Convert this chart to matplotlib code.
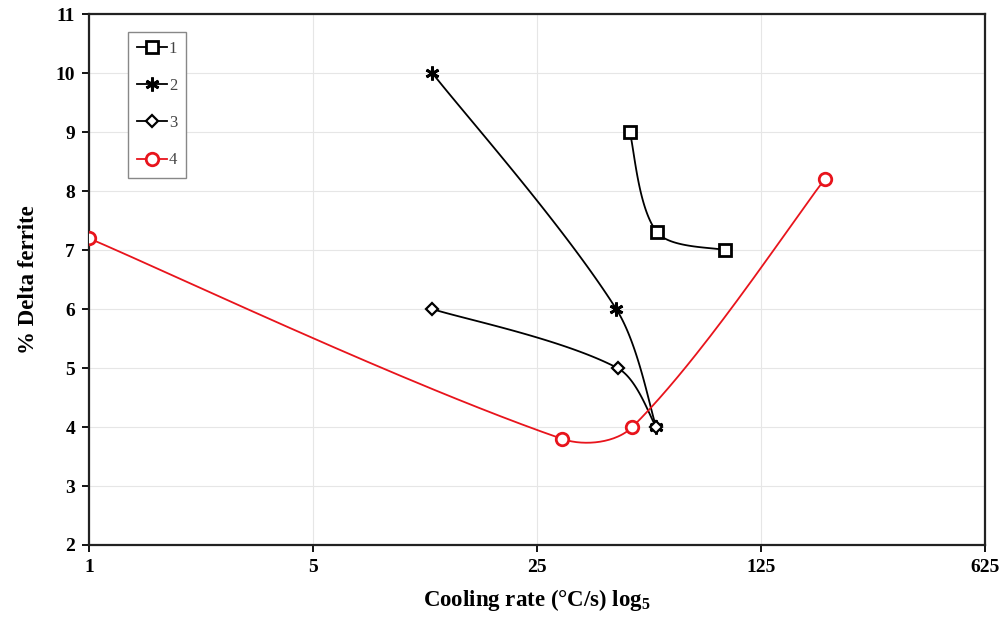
import numpy as np
import matplotlib
matplotlib.use("Agg")
import matplotlib.pyplot as plt

plt.rcParams['font.family'] = ['Liberation Serif', 'DejaVu Serif']
plt.rcParams['mathtext.fontset'] = 'custom'
plt.rcParams['mathtext.rm'] = 'Liberation Serif'
plt.rcParams['mathtext.bf'] = 'Liberation Serif:bold'

# cooling rate (C/s) and % delta ferrite
x1 = [48.7, 59.3, 96.4]
y1 = [9.0, 7.3, 7.0]
x2 = [11.8, 44.2, 58.9]
y2 = [10.0, 6.0, 4.0]
x3 = [11.8, 44.6, 58.9]
y3 = [6.0, 5.0, 4.0]
x4 = [1.0, 29.9, 49.6, 197.6]
y4 = [7.2, 3.8, 4.0, 8.2]
xticks = [1, 5, 25, 125, 625]


def smooth(xs, ys, n=50):
    # excel style smoothed line (bezier), worked out in rough screen units
    sx, sy = 224.0, 59.0
    px = np.log(np.array(xs, float)) / np.log(5) * sx
    py = np.array(ys, float) * sy
    pts = np.column_stack([px, py])
    k = len(pts)
    d = np.hypot(*np.diff(pts, axis=0).T)
    out = []
    t = np.linspace(0, 1, n)[:, None]
    for i in range(k - 1):
        p0 = pts[i]
        p3 = pts[i + 1]
        if i > 0:
            c1 = p0 + (p3 - pts[i - 1]) * d[i] / (d[i - 1] + d[i]) / 3
        else:
            c1 = p0 + (p3 - p0) / 6
        if i + 2 < k:
            c2 = p3 - (pts[i + 2] - p0) * d[i] / (d[i] + d[i + 1]) / 3
        else:
            c2 = p3 - (p3 - p0) / 6
        seg = ((1 - t) ** 3) * p0 + 3 * ((1 - t) ** 2) * t * c1 + 3 * (1 - t) * t ** 2 * c2 + t ** 3 * p3
        out.append(seg)
    out = np.vstack(out)
    return 5 ** (out[:, 0] / sx), out[:, 1] / sy


fig = plt.figure(figsize=(10.03, 6.17), dpi=100)
ax = fig.add_axes([0.0887, 0.1167, 0.8933, 0.8603])

series = [
    (x1, y1, "1", "black", dict(marker="s", ms=9, mfc="white", mew=2)),
    (x2, y2, "2", "black", dict(marker=(6, 2, 0), ms=10, mew=2)),
    (x3, y3, "3", "black", dict(marker="D", ms=6.5, mfc="white", mew=1.6)),
    (x4, y4, "4", "#e8141c", dict(marker="o", ms=9, mfc="white", mew=2)),
]
for xs, ys, lab, col, mk in series:
    sx, sy = smooth(xs, ys)
    ax.plot(sx, sy, color=col, lw=1.3, zorder=3)
    ax.plot(xs, ys, ls="none", color=col, mec=col, zorder=4, **mk)
    ax.plot([], [], color=col, lw=1.3, mec=col, label=lab, **mk)

ax.set_xscale("log", base=5)
ax.set_xlim(1, 625)
ax.set_ylim(2, 11)
ax.set_xticks(xticks)
ax.set_xticklabels([str(v) for v in xticks])
ax.xaxis.set_minor_locator(matplotlib.ticker.NullLocator())
ax.set_yticks(range(2, 12))
ax.grid(True, color="#e6e6e6", lw=0.8)
ax.set_axisbelow(True)
for s in ax.spines.values():
    s.set_linewidth(1.6)
    s.set_color("#222222")
ax.tick_params(direction="out", length=5, width=1.3, labelsize=14, pad=5)
for lbl in ax.get_xticklabels() + ax.get_yticklabels():
    lbl.set_fontweight("bold")

ax.set_xlabel(r"Cooling rate (°C/s) log$_\mathbf{5}$", fontsize=16.5, fontweight="bold", labelpad=8)
ax.set_ylabel("% Delta ferrite", fontsize=16.5, fontweight="bold", labelpad=12)

leg = ax.legend(loc="upper left", bbox_to_anchor=(0.0435, 0.967), fontsize=12,
                handlelength=1.8, handletextpad=0.1, labelspacing=1.27,
                borderpad=0.55, fancybox=False, framealpha=1, borderaxespad=0)
leg.get_frame().set_edgecolor("#888888")
leg.get_frame().set_linewidth(1.0)
for t in leg.get_texts():
    t.set_color("#444444")

fig.savefig("out.png", dpi=100)
